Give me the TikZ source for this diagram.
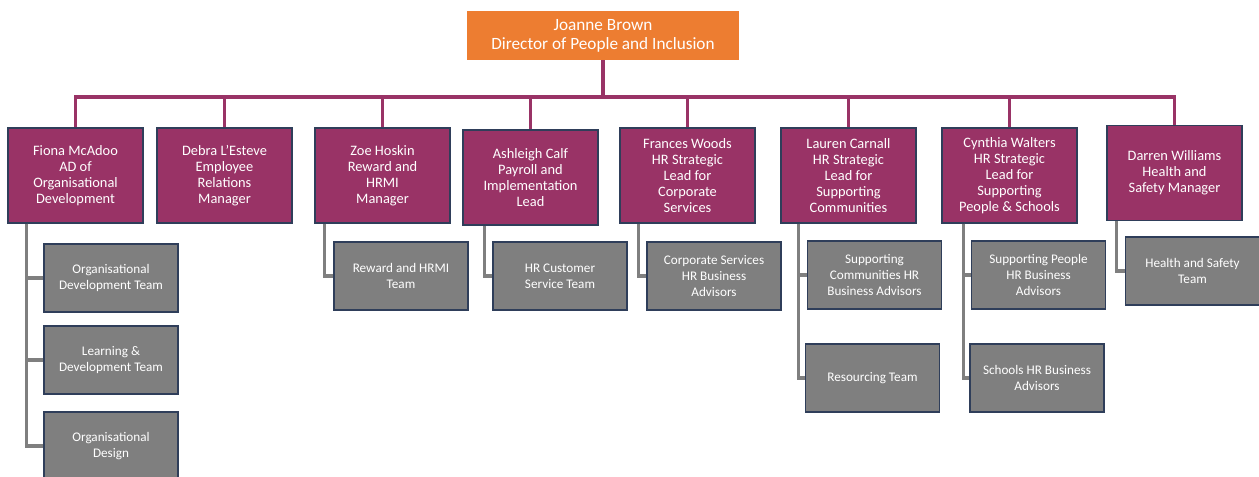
\documentclass[tikz,border=0pt]{standalone}
\usepackage{fontspec}
\setmainfont{Carlito}
\definecolor{dirorange}{HTML}{ED7D31}
\definecolor{leadplum}{HTML}{993366}
\definecolor{teamgrey}{HTML}{7F7F7F}
\definecolor{boxedge}{HTML}{2F3E5A}
\begin{document}
\begin{tikzpicture}[x=0.02cm, y=-0.02cm,
  head/.style={fill=dirorange, text=white, minimum width=5.44cm, minimum height=0.98cm,
    inner sep=0pt, align=center, font=\fontsize{9.8}{10.8}\selectfont},
  lead/.style={fill=leadplum, draw=boxedge, line width=0.6pt, text=white,
    minimum width=2.7cm, minimum height=1.9cm, inner sep=0pt, align=center,
    font=\fontsize{8.2}{9.1}\selectfont},
  team/.style={fill=teamgrey, draw=boxedge, line width=0.6pt, text=white,
    minimum width=2.68cm, minimum height=1.36cm, inner sep=0pt, align=center,
    font=\fontsize{7.5}{9.1}\selectfont},
  pline/.style={draw=leadplum, line width=1.8pt},
  gline/.style={draw=teamgrey, line width=1.8pt}]

  % ---- page frame (px, origin top left) ----
  \useasboundingbox (0,0) rectangle (1259,477);
  \clip (0,0) rectangle (1259,477);

  % ---- director ----
  \node[head] (joanne) at (603,35.5) {Joanne Brown\\Director of People and Inclusion};

  % ---- leads ----
  \node[lead] (fiona)    at (75.5,175.5)  {Fiona McAdoo\\AD of\\Organisational\\Development};
  \node[lead] (debra)    at (224.5,175.5) {Debra L’Esteve\\Employee\\Relations\\Manager};
  \node[lead] (zoe)      at (382.5,175.5) {Zoe Hoskin\\Reward and\\HRMI\\Manager};
  \node[lead] (ashleigh) at (530.5,177.5) {Ashleigh Calf\\Payroll and\\Implementation\\Lead};
  \node[lead] (frances)  at (687.5,175.5) {Frances Woods\\HR Strategic\\Lead for\\Corporate\\Services};
  \node[lead] (lauren)   at (848.5,175.5) {Lauren Carnall\\HR Strategic\\Lead for\\Supporting\\Communities};
  \node[lead] (cynthia)  at (1009.5,175.5) {Cynthia Walters\\HR Strategic\\Lead for\\Supporting\\People \& Schools};
  \node[lead] (darren)   at (1174.5,173)  {Darren Williams\\Health and\\Safety Manager};

  % ---- teams ----
  \node[team] (odteam)  at (111,278)    {Organisational\\Development Team};
  \node[team] (ldteam)  at (111,360)    {Learning \&\\Development Team};
  \node[team] (oddes)   at (111,446)    {Organisational\\Design};
  \node[team] (rhteam)  at (401,276)    {Reward and HRMI\\Team};
  \node[team] (csteam)  at (560,276)    {HR Customer\\Service Team};
  \node[team] (corpbp)  at (714,276)    {Corporate Services\\HR Business\\Advisors};
  \node[team] (commbp)  at (874.5,275)  {Supporting\\Communities HR\\Business Advisors};
  \node[team] (resteam) at (872.5,378)  {Resourcing Team};
  \node[team] (pplbp)   at (1038.5,275) {Supporting People\\HR Business\\Advisors};
  \node[team] (schbp)   at (1037,378)   {Schools HR Business\\Advisors};
  \node[team] (hsteam)  at (1192.5,271) {Health and Safety\\Team};

  % ---- director to leads ----
  \coordinate (bus) at (603,97);
  \draw[pline] (joanne.south) -- (bus);
  \foreach \n in {fiona,debra,zoe,ashleigh,frances,lauren,cynthia,darren}
    \draw[pline] (bus) -| (\n.north);

  % ---- leads to teams ----
  \foreach \t in {odteam,ldteam,oddes}
    \draw[gline] (fiona.south west) ++(19,0) |- (\t.west);
  \draw[gline] (zoe.south west) ++(10,0) |- (rhteam.west);
  \draw[gline] (ashleigh.south west) ++(22,0) |- (csteam.west);
  \draw[gline] (frances.south west) ++(19,0) |- (corpbp.west);
  \draw[gline] (lauren.south west) ++(18,0) |- (commbp.west);
  \draw[gline] (lauren.south west) ++(18,0) |- (resteam.west);
  \draw[gline] (cynthia.south west) ++(22,0) |- (pplbp.west);
  \draw[gline] (cynthia.south west) ++(22,0) |- (schbp.west);
  \draw[gline] (darren.south west) ++(10,0) |- (hsteam.west);

\end{tikzpicture}
\end{document}
